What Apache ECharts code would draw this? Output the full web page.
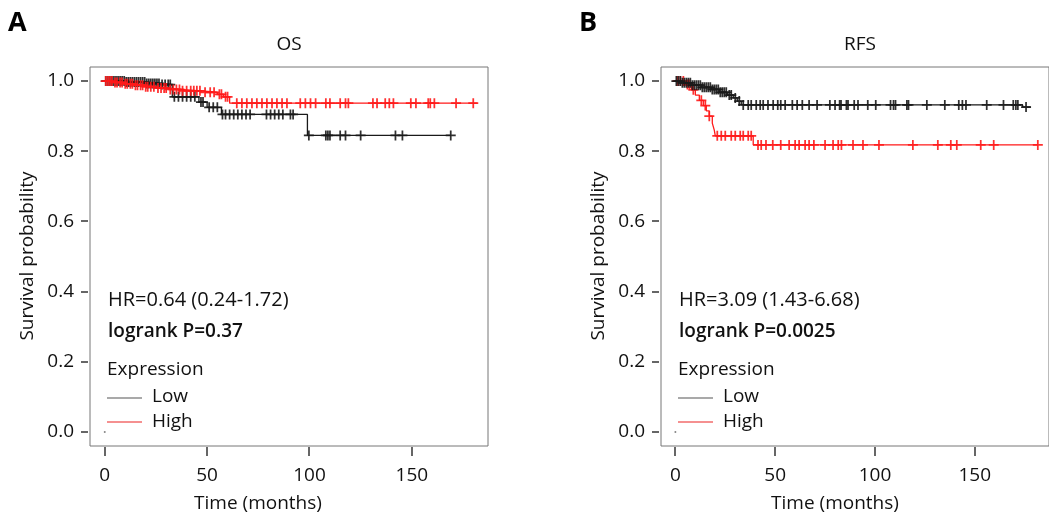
<!DOCTYPE html>
<html>
<head>
<meta charset="utf-8">
<script src="https://cdn.jsdelivr.net/npm/echarts@6/dist/echarts.min.js"></script>
<style>
html,body{margin:0;padding:0;background:#fff;}
#chart{width:1049px;height:518px;}
</style>
</head>
<body>
<div id="chart"></div>
<script>
// ---------- data ----------
const panelLetters = ['A', 'B'];
const panelTitles = ['OS', 'RFS'];
const xTicks = [0, 50, 100, 150];
const yTicks = [0, 0.2, 0.4, 0.6, 0.8, 1.0];
const xTitle = 'Time (months)';
const yTitle = 'Survival probability';
const legendTitle = 'Expression';
const groupNames = ['Low', 'High'];
const hrTexts = ['HR=0.64 (0.24-1.72)', 'HR=3.09 (1.43-6.68)'];
const pTexts = ['logrank P=0.37', 'logrank P=0.0025'];

// Kaplan-Meier steps [time, survival]; last entry = end of follow-up
const osLowSteps = [[0,1],[10,0.997],[20,0.993],[27,0.99],[33,0.955],[46,0.94],[50,0.925],[57,0.905],[99,0.845],[169,0.845]];
const osHighSteps = [[0,1],[4,0.996],[9,0.992],[14,0.988],[19,0.984],[25,0.98],[31,0.976],[37,0.972],[47,0.968],[55,0.962],[58,0.955],[61,0.937],[182,0.937]];
const rfsLowSteps = [[0,1],[3,0.995],[8,0.988],[13,0.982],[18,0.976],[22,0.968],[26,0.96],[29,0.952],[31,0.943],[33,0.932],[174,0.926],[178,0.926]];
const rfsHighSteps = [[0,1],[5,0.99],[8,0.975],[10,0.96],[12,0.945],[14,0.93],[15.5,0.915],[17,0.9],[18.5,0.88],[19.5,0.86],[20,0.844],[39,0.818],[181.6,0.818]];

// censoring times
const osLowCensor = [0.5,1.5,2.5,3.5,4.5,5.5,6.5,7.5,8.5,9.5,10.5,11.5,12.5,13.5,14.5,15.5,16.5,17.5,18.5,19.5,20.5,21.5,22.5,23.5,24.5,25.5,26.5,28,29.5,31,32,
  34,36,38,40,42,44,47,48,51,53,55,57.5,59,61,63,65,67,69,71,79,81,83,85,87,90.7,92,
  99.7,108,109,110,115,117.6,125,142,145.4,169];
const osHighCensor = [0.5,1.5,2.5,3.5,5,6,7.5,8.5,10,11,12.5,13.5,15,16,17.5,18.5,20,21,22.5,24,26,27.5,29,30,32,33.5,35,36.5,38,40,42,43.5,45,46.5,49,51.5,53.4,56,57,59,60,
  64.5,67,69.4,71.9,74.3,76.8,79.2,81.7,84.1,86.6,89,95.5,98,100.5,103,108,110,115,117.6,119,131,133,137,139,141,149.5,152,158,159,161,171.6,180];
const rfsLowCensor = [0.5,1.5,2.5,3.5,4.5,5.5,6.5,7.5,8.5,9.5,10.5,11.5,12.5,13.5,14.5,15.5,16.5,17.5,18.5,19.5,20.5,21.5,22.5,23.5,24.5,25.5,27,28,30,32,
  34,36.5,38,40.5,42.5,44,46.4,49,51.3,52.8,55,58.6,61,63.6,67,71,77.4,80,82.3,
  83,85.7,86.5,89.6,91.5,96.4,100.4,107.8,109.3,110.3,116,116.8,126,135,142,143.8,145.6,156,164.4,169.3,170.6,171.6,175.7];
const rfsHighCensor = [1,2.5,4,6,7,9,13,15,17,
  21,23,25,28,30,32.5,34,36.5,38,
  41.4,43,45.4,48.8,52.8,57,60,62,65,67,69.4,75,79,81.6,83.2,89,94,102,119,131.5,138,141,153,159.5,181.6];
const originDot = [[0, 0]];

// ---------- helpers ----------
const X_MIN = -7.2, X_MAX = 187.2, Y_MIN = -0.04, Y_MAX = 1.04;
function survAt(steps, t) {
  let s = steps[0][1];
  for (const p of steps) { if (p[0] <= t) s = p[1]; else break; }
  return s;
}
function censorPoints(steps, times) { return times.map(t => [t, survAt(steps, t)]); }

const FONT = "'Open Sans', 'Noto Sans', sans-serif";
const TXT = '#111';
const BLACK = '#1a1a1a';
const RED = '#ff1a1a';
const AXIS = '#333';
const PLUS = 'path://M3.3,0h1.4v3.3h3.3v1.4h-3.3v3.3h-1.4v-3.3h-3.3v-1.4h3.3z';

const grids = [
  {left: 90, top: 67, width: 398, height: 379},
  {left: 661, top: 67, width: 398, height: 379}
];

const xAxes = grids.map((g, i) => ({
  type: 'value', gridIndex: i, min: X_MIN, max: X_MAX, position: 'bottom',
  axisLine: {show: false, onZero: false},
  splitLine: {show: false},
  axisTick: {show: false},
  axisLabel: {customValues: xTicks, fontSize: 19, fontFamily: FONT, color: TXT, margin: 20}
}));
const yAxes = grids.map((g, i) => ({
  type: 'value', gridIndex: i, min: Y_MIN, max: Y_MAX, position: 'left',
  axisLine: {show: false, onZero: false},
  splitLine: {show: false},
  axisTick: {show: false},
  axisLabel: {customValues: yTicks, formatter: v => v.toFixed(1), fontSize: 19, fontFamily: FONT, color: TXT, margin: 16}
}));

function lineSeries(steps, color, idx) {
  return {type: 'line', xAxisIndex: idx, yAxisIndex: idx, data: steps, step: 'end',
    showSymbol: false, symbol: 'none', lineStyle: {color: color, width: 1.3}, silent: true, z: 2};
}
function censorSeries(steps, times, color, idx) {
  return {type: 'scatter', xAxisIndex: idx, yAxisIndex: idx, data: censorPoints(steps, times),
    symbol: PLUS, symbolSize: 10, itemStyle: {color: color, opacity: 0.9}, silent: true, z: 3};
}
function dotSeries(idx) {
  return {type: 'scatter', xAxisIndex: idx, yAxisIndex: idx, data: originDot,
    symbol: 'circle', symbolSize: 2, itemStyle: {color: '#666'}, silent: true};
}

const series = [
  lineSeries(osLowSteps, BLACK, 0), censorSeries(osLowSteps, osLowCensor, BLACK, 0),
  lineSeries(osHighSteps, RED, 0), censorSeries(osHighSteps, osHighCensor, RED, 0),
  dotSeries(0),
  lineSeries(rfsHighSteps, RED, 1), censorSeries(rfsHighSteps, rfsHighCensor, RED, 1),
  lineSeries(rfsLowSteps, BLACK, 1), censorSeries(rfsLowSteps, rfsLowCensor, BLACK, 1),
  dotSeries(1)
];

// annotation text / legend
const graphic = [];
const panelX = [0, 571];
const xTitleCenters = [258, 835];
panelLetters.forEach((L, i) => {
  const dx = panelX[i];
  graphic.push({type: 'text', left: 8 + dx, top: 10, style: {text: L, font: "bold 27px " + FONT, fill: '#000'}});
  graphic.push({type: 'text', x: grids[i].left + grids[i].width / 2, y: 45,
    style: {text: panelTitles[i], font: "19px " + FONT, fill: TXT, align: 'center', verticalAlign: 'middle'}});
  graphic.push({type: 'text', x: xTitleCenters[i], y: 504,
    style: {text: xTitle, font: "19px " + FONT, fill: TXT, align: 'center', verticalAlign: 'middle'}});
  graphic.push({type: 'text', x: 28 + dx, y: 256, rotation: Math.PI / 2,
    style: {text: yTitle, font: "19px " + FONT, fill: TXT, align: 'center', verticalAlign: 'middle'}});
  const lx = 107 + dx;
  graphic.push({type: 'text', x: lx + 1, y: 300, style: {text: hrTexts[i], font: "20px " + FONT, fill: TXT, verticalAlign: 'middle'}});
  graphic.push({type: 'text', x: lx + 1, y: 332, style: {text: pTexts[i], font: "600 19px " + FONT, fill: TXT, verticalAlign: 'middle'}});
  graphic.push({type: 'text', x: lx, y: 370, style: {text: legendTitle, font: "19px " + FONT, fill: TXT, verticalAlign: 'middle'}});
  graphic.push({type: 'line', shape: {x1: lx, y1: 398, x2: lx + 35, y2: 398}, style: {stroke: '#8c8c8c', lineWidth: 1.5}});
  graphic.push({type: 'line', shape: {x1: lx, y1: 422, x2: lx + 35, y2: 422}, style: {stroke: '#f26b6b', lineWidth: 1.5}});
  graphic.push({type: 'text', x: lx + 45, y: 397, style: {text: groupNames[0], font: "19px " + FONT, fill: TXT, verticalAlign: 'middle'}});
  graphic.push({type: 'text', x: lx + 45, y: 422, style: {text: groupNames[1], font: "19px " + FONT, fill: TXT, verticalAlign: 'middle'}});
});

const chart = echarts.init(document.getElementById('chart'), null, {renderer: 'canvas'});
chart.setOption({
  animation: false,
  backgroundColor: '#fff',
  grid: grids.map(g => Object.assign({show: true, borderColor: '#777', borderWidth: 1, backgroundColor: 'transparent'}, g)),
  xAxis: xAxes,
  yAxis: yAxes,
  series: series,
  graphic: graphic
});

// tick marks positioned through the library's own axis scales
const tickGraphic = [];
grids.forEach((g, i) => {
  xTicks.forEach(v => {
    const p = chart.convertToPixel({xAxisIndex: i, yAxisIndex: i}, [v, Y_MIN]);
    if (!p) return;
    tickGraphic.push({type: 'rect', z: 10, shape: {x: Math.round(p[0]) - 0.75, y: p[1] + 1, width: 1.5, height: 9}, style: {fill: AXIS}});
  });
  yTicks.forEach(v => {
    const p = chart.convertToPixel({xAxisIndex: i, yAxisIndex: i}, [X_MIN, v]);
    if (!p) return;
    tickGraphic.push({type: 'rect', z: 10, shape: {x: p[0] - 9, y: Math.round(p[1]) - 0.75, width: 7, height: 1.5}, style: {fill: AXIS}});
  });
});
chart.setOption({graphic: graphic.concat(tickGraphic)}, {replaceMerge: ['graphic']});
</script>
</body>
</html>
